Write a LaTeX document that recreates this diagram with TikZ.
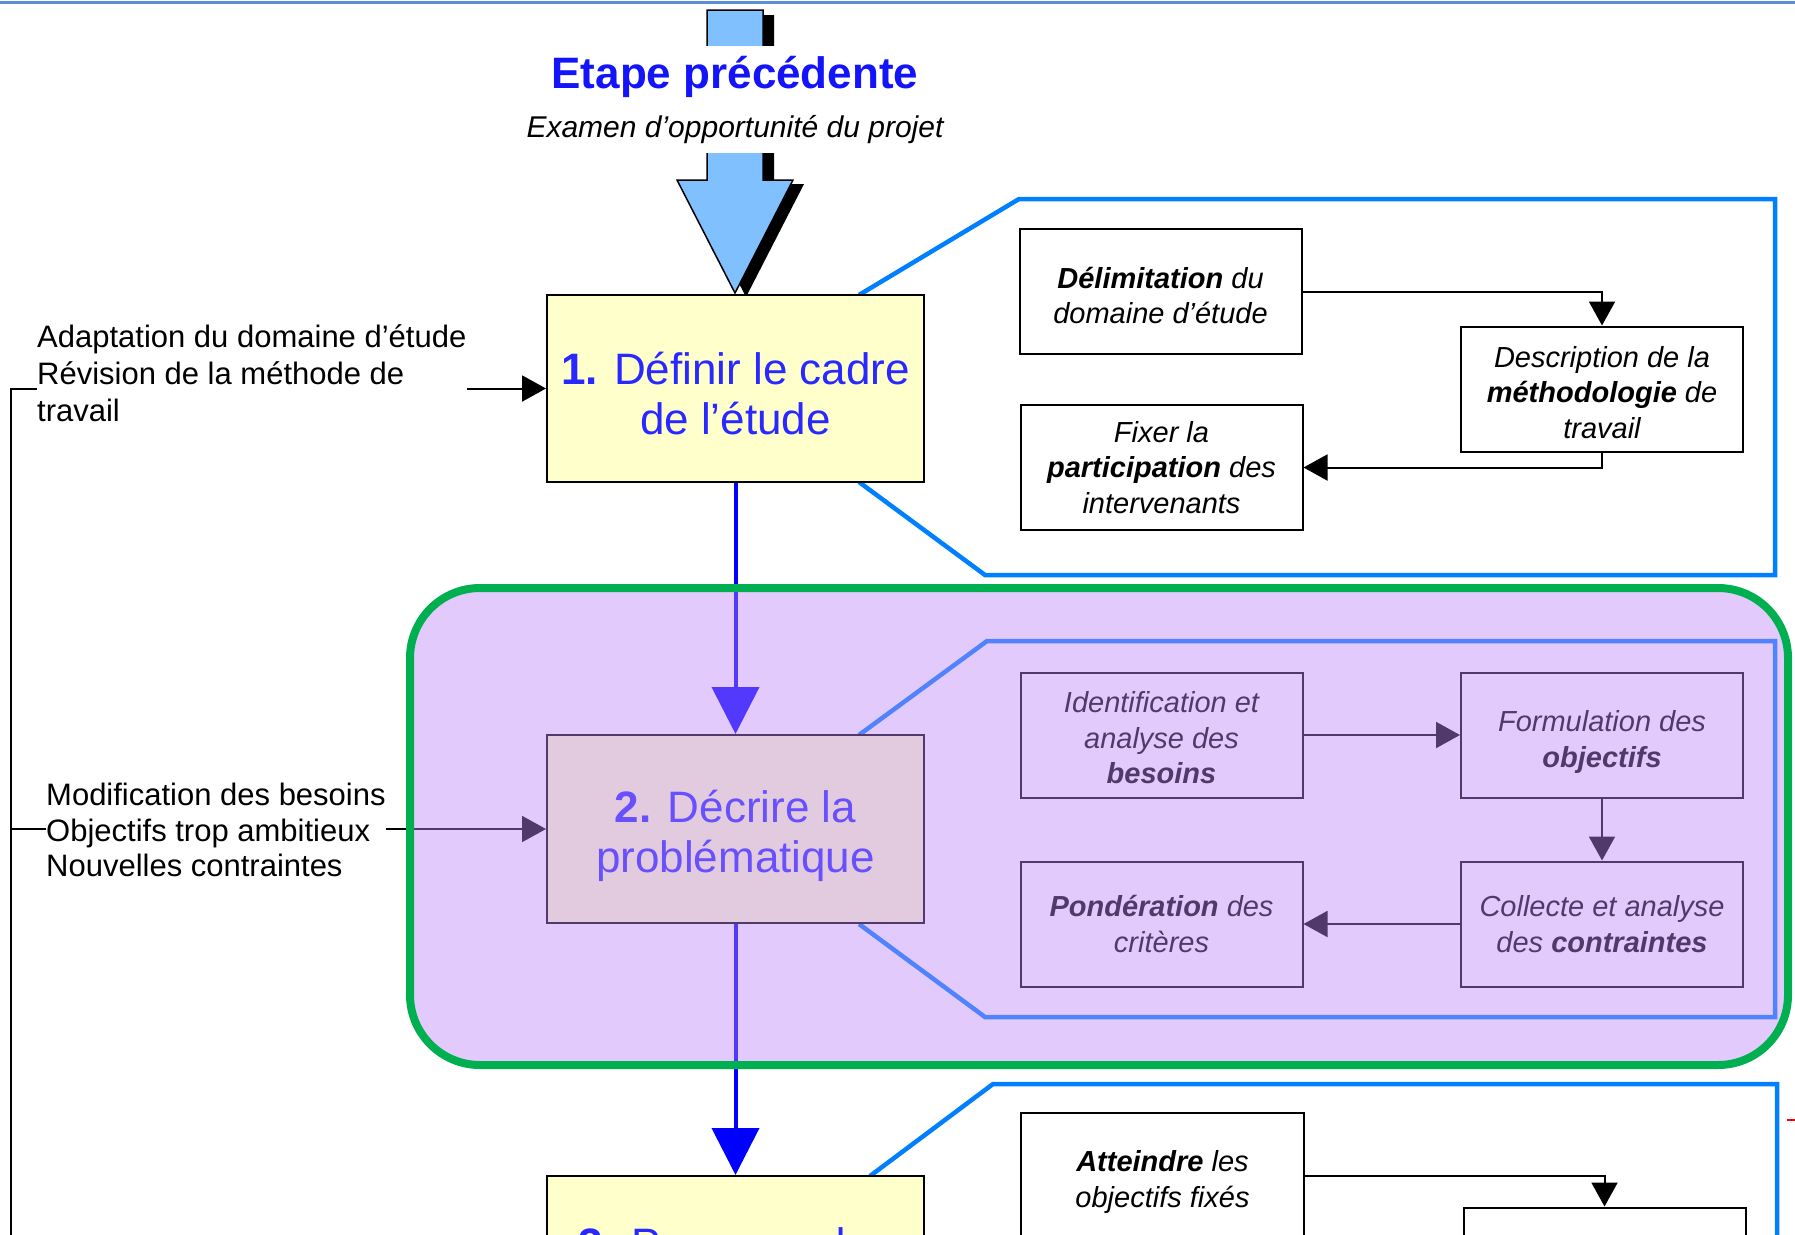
\documentclass[tikz,border=0pt]{standalone}
\usepackage{fontspec}
\setmainfont{Liberation Sans}
\usetikzlibrary{arrows.meta}
\definecolor{stepyellow}{RGB}{255,255,204}
\definecolor{stepblue}{RGB}{40,40,255}
\definecolor{titleblue}{RGB}{20,20,250}
\definecolor{panelblue}{RGB}{0,128,255}
\definecolor{arrowfill}{RGB}{128,192,255}
\definecolor{flowblue}{RGB}{0,0,255}
\definecolor{framegreen}{RGB}{0,176,80}
\definecolor{topline}{RGB}{91,143,214}
\definecolor{lav}{RGB}{190,136,250}
\newcommand{\hstrut}[1]{\rule{0pt}{#1pt}}
\tikzset{
 stepbox/.style={draw=black, line width=2pt, fill=stepyellow, minimum width=377pt, minimum height=187pt, inner sep=0pt, text=stepblue, align=center, font=\fontsize{44}{50}\selectfont},
 subbox/.style={draw=black, line width=2pt, fill=white, minimum width=282pt, minimum height=125pt, inner sep=0pt, align=center, font=\itshape\fontsize{29}{35.5}\selectfont},
 panelline/.style={draw=panelblue, line width=4.5pt, line join=miter},
 flowarrow/.style={draw=flowblue, line width=4pt, -{Triangle[width=47pt,length=47pt]}},
 smallarrow/.style={draw=black, line width=2pt, -{Triangle[width=26pt,length=24pt]}},
 sidelabel/.style={align=left, inner sep=0pt, anchor=north west, font=\fontsize{31}{37}\selectfont},
}
\begin{document}
\begin{tikzpicture}[x=1pt,y=-1pt]
\useasboundingbox (0,0) rectangle (1795,1234);
\clip (0,0) rectangle (1795,1234);
\fill[white] (0,0) rectangle (1795,1234);
% top rule
\draw[topline, line width=3pt] (0,2) -- (1795,2);
% big incoming arrow with shadow
\fill[black] (718,15) -- (774,15) -- (774,184) -- (804,184) -- (746,297) -- (688,184) -- (718,184) -- cycle;
\filldraw[fill=arrowfill, draw=black, line width=1.5pt] (707,10) -- (763,10) -- (763,180) -- (793,180) -- (735,293) -- (677,180) -- (707,180) -- cycle;
\node[fill=white, inner xsep=6pt, inner ysep=10pt, text=titleblue, font=\bfseries\fontsize{44}{50}\selectfont, anchor=base] (prev) at (735,88) {Etape précédente};
\node[fill=white, inner xsep=6pt, inner ysep=10pt, font=\itshape\fontsize{30}{36}\selectfont, anchor=base] (exam) at (735,137) {Examen d'opportunité du projet};
% callout panels
\draw[panelline] (859,295) -- (1019,199) -- (1775,199) -- (1775,575) -- (985,575) -- (859,482);
\draw[panelline] (859,735) -- (987,641) -- (1775,641) -- (1775,1017) -- (985,1017) -- (859,924);
\draw[panelline] (870,1176) -- (993,1084) -- (1777,1084) -- (1777,1240);
% main steps
\node[stepbox] (b1) at (735.5,388.5) {\hstrut{42.5}\textbf{1.} Définir le cadre\\de l'étude};
\node[stepbox, minimum height=188pt] (b2) at (735.5,829) {\hstrut{46.5}\textbf{2.} Décrire la\\problématique};
\node[stepbox] (b3) at (735.5,1269.5) {};
\node[text=stepblue, font=\fontsize{44}{50}\selectfont, anchor=north, inner sep=0pt] (b3t) at (735.5,1227) {\textbf{3.} Proposer des};
\draw[flowarrow] (b1.south) -- (b2.north);
\draw[flowarrow] (b2.south) -- (b3.north);
% panel 1
\node[subbox] (delim) at (1160.5,291.5) {\hstrut{29.5}\textbf{Délimitation} du\\domaine d'étude};
\node[subbox] (descr) at (1602,389) {\hstrut{28}Description de la\\\textbf{méthodologie} de\\travail};
\node[subbox] (fixer) at (1161.5,467.5) {Fixer la\\\textbf{participation} des\\intervenants};
\draw[smallarrow] (delim.east) -| (descr.north);
\draw[smallarrow] (descr.south) |- (fixer.east);
% panel 2
\node[subbox] (ident) at (1161.5,735) {\hstrut{27}Identification et\\analyse des\\\textbf{besoins}};
\node[subbox] (formul) at (1602,735) {\hstrut{34.5}Formulation des\\\textbf{objectifs}};
\node[subbox] (collecte) at (1602,924) {Collecte et analyse\\des \textbf{contraintes}};
\node[subbox] (ponder) at (1161.5,924) {\textbf{Pondération} des\\critères};
\draw[smallarrow] (ident.east) -- (formul.west);
\draw[smallarrow] (formul.south) -- (collecte.north);
\draw[smallarrow] (collecte.west) -- (ponder.east);
% panel 3
\node[subbox, minimum width=283pt, minimum height=139pt] (att) at (1162.5,1182) {\textbf{Atteindre} les\\objectifs fixés};
\node[subbox] (part) at (1604.5,1270) {};
\draw[smallarrow] ([yshift=6pt]att.east) -| (part.north);
% side labels and feedback
\node[sidelabel] (adapt) at (37,324) {Adaptation du domaine d'étude\\Révision de la méthode de\\travail};
\node[sidelabel, font=\fontsize{31}{35.5}\selectfont] (modif) at (46,783) {Modification des besoins\\Objectifs trop ambitieux\\Nouvelles contraintes};
\coordinate (fb1) at (11,388.5);
\coordinate (fb2) at (11,829);
\coordinate (fbend) at (11,1240);
\draw[line width=2pt] (fbend) -- (fb1) -- (fb1 -| adapt.west);
\draw[line width=2pt] (fb2) -- (fb2 -| modif.west);
\draw[smallarrow] (adapt.east |- b1.west) -- (b1.west);
\draw[smallarrow] (modif.east |- b2.west) -- (b2.west);
% highlight overlay
\fill[lav, opacity=0.43, rounded corners=70pt] (410,588) rectangle (1788,1065);
\draw[framegreen, line width=8pt, rounded corners=70pt] (410,588) rectangle (1788,1065);
% cut-off mark at right edge
\draw[red, line width=2.5pt] (1787,1120) -- (1795,1120);
\end{tikzpicture}
\end{document}
